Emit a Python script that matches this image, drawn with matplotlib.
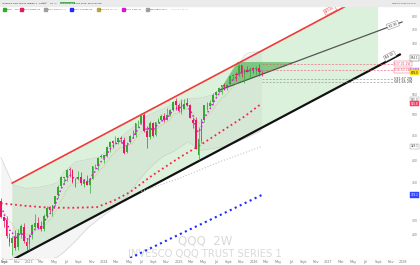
import datetime as dt
import numpy as np
import matplotlib
matplotlib.use('Agg')
import matplotlib.pyplot as plt
import matplotlib.dates as mdates
from matplotlib.patches import Rectangle, Polygon
from matplotlib.transforms import blended_transform_factory

W, H = 420, 265

# ---------------- data (QQQ, 2W bars) ----------------
first_bar = dt.date(2022, 8, 15)
opens = [330, 305, 301, 276, 270, 277, 264, 281, 291, 271,
         268, 280, 291, 296, 292, 288, 307, 318, 316, 325,
         339, 354, 368, 369, 384, 383, 365, 366, 370, 357,
         362, 356, 367, 389, 389, 406, 405, 411, 426, 439,
         437, 438, 446, 441, 416, 437, 451, 452, 479, 480,
         497, 462, 447, 480, 453, 482, 487, 496, 487, 497,
         509, 531, 522, 505, 513, 526, 522, 487, 485, 410,
         440, 486, 520, 519, 530, 549, 556, 568, 574, 570,
         577, 599, 606, 605, 631, 606, 618, 614, 622, 621,
         624, 610]
highs = [334, 307, 306, 283, 278, 287, 288, 295, 296, 274,
         281, 295, 310, 305, 300, 310, 321, 322, 324, 338,
         355, 371, 370, 385, 387, 385, 368, 381, 379, 366,
         373, 368, 390, 393, 406, 412, 411, 428, 440, 442,
         449, 448, 449, 448, 437, 452, 463, 480, 486, 503,
         503, 471, 483, 482, 482, 491, 501, 503, 515, 512,
         533, 539, 526, 538, 537, 540, 524, 492, 494, 470,
         489, 523, 530, 535, 552, 559, 568, 575, 581, 578,
         600, 605, 611, 637, 632, 620, 629, 626, 625, 630,
         636, 615]
lows = [304, 291, 276, 266, 254, 260, 260, 276, 270, 260,
        260, 274, 288, 288, 285, 286, 304, 312, 307, 322,
        334, 350, 357, 363, 370, 360, 353, 365, 356, 352,
        355, 343, 366, 384, 383, 404, 396, 407, 416, 424,
        434, 433, 436, 413, 414, 435, 445, 447, 470, 478,
        459, 425, 444, 448, 450, 479, 483, 482, 485, 495,
        507, 510, 505, 499, 511, 520, 490, 467, 422, 402,
        435, 482, 510, 517, 523, 546, 553, 550, 560, 560,
        575, 590, 587, 601, 596, 580, 612, 595, 610, 605,
        600, 600]
closes = [305, 299, 278, 271, 276, 263, 282, 292, 272, 266,
          280, 293, 296, 290, 288, 306, 319, 316, 324, 338,
          353, 369, 369, 383, 383, 361, 364, 369, 359, 365,
          356, 367, 389, 390, 405, 409, 410, 426, 438, 436,
          438, 446, 443, 414, 432, 450, 450, 479, 480, 496,
          461, 447, 480, 451, 481, 487, 496, 487, 497, 509,
          530, 522, 508, 529, 525, 522, 491, 480, 422, 444,
          488, 522, 519, 527, 549, 555, 567, 574, 571, 576,
          599, 604, 603, 629, 608, 619, 613, 621, 620, 622,
          612, 609]
ema_fast = [320, 312, 298, 287, 283, 275, 278, 283, 279, 274,
            276, 283, 288, 289, 289, 296, 305, 309, 315, 324,
            336, 349, 357, 368, 374, 369, 367, 368, 364, 365,
            361, 364, 374, 380, 390, 398, 403, 412, 422, 428,
            432, 438, 440, 429, 430, 438, 443, 457, 466, 478,
            471, 462, 469, 462, 470, 477, 484, 485, 490, 498,
            511, 515, 512, 519, 521, 522, 509, 498, 467, 458,
            470, 491, 502, 512, 527, 538, 550, 559, 564, 569,
            581, 590, 595, 609, 609, 613, 613, 616, 618, 619,
            616, 613]
ema_mid = [317, 313, 306, 299, 295, 288, 287, 288, 285, 281,
           281, 283, 286, 287, 287, 291, 296, 300, 305, 312,
           320, 330, 338, 347, 354, 355, 357, 360, 359, 361,
           360, 361, 367, 371, 378, 384, 389, 397, 405, 411,
           417, 423, 427, 424, 426, 431, 435, 443, 451, 460,
           460, 457, 462, 460, 464, 469, 474, 477, 481, 486,
           495, 501, 502, 507, 511, 513, 509, 503, 487, 478,
           480, 489, 495, 501, 511, 520, 529, 538, 545, 551,
           561, 569, 576, 587, 591, 597, 600, 604, 607, 610,
           611, 610]
bar_dates = [first_bar + dt.timedelta(days=14 * i) for i in range(len(closes))]

slow_dates = ['2022-08-15', '2022-12-12', '2023-04-13', '2023-08-13', '2023-11-28',
              '2024-02-24', '2024-05-08', '2024-08-14', '2025-01-08', '2025-04-01',
              '2025-07-31', '2025-11-20', '2026-02-09']
slow_red = [326, 322, 319, 319, 320, 331, 344, 370, 407, 427, 461, 495, 526]

grey_dates = ['2024-07-01', '2025-01-08', '2025-07-21', '2026-02-09']
grey_ma = [345, 368, 398, 428]

blue_dates = ['2024-03-20', '2024-11-28', '2025-07-21', '2026-02-09']
blue_ma = [245, 276, 308, 339]

bb_dates = ['2022-08-15', '2022-09-15', '2022-10-15', '2022-12-15', '2023-02-15',
            '2023-04-15', '2023-05-20', '2023-06-20', '2023-08-15', '2023-10-15',
            '2023-12-15', '2024-02-15', '2024-04-15', '2024-06-15', '2024-08-15',
            '2024-10-15', '2024-12-15', '2025-02-15', '2025-04-15', '2025-06-15',
            '2025-08-15', '2025-10-15', '2025-11-20', '2025-12-15', '2026-02-09']
bb_upper = [406, 380, 356, 350, 352, 356, 360, 379, 398, 402, 408, 432, 456, 478,
            500, 512, 528, 538, 540, 548, 575, 630, 665, 672, 675]
bb_lower = [240, 242, 244, 246, 247, 249, 252, 258, 272, 290, 304, 318, 334, 362,
            388, 408, 420, 438, 420, 424, 428, 438, 445, 450, 462]

# trend lines (anchor date, price)
red_dates = ['2022-10-10', '2027-04-07']
red_prices = [359.2, 843.4]
black_dates = ['2022-10-10', '2027-12-16']
black_prices = [248.4, 665.0]
wedge_dates = ['2025-07-21', '2027-12-27']
wedge_prices = [561.3, 777.3]
wedge_top_date = '2025-10-13'
wedge_top_price = 641.5

level_prices = [637.01, 616.63, 591.67, 581.65]
level_names = ['637.01 2W', '616.63 2W', '591.67 2W', '581.65 2W']
level_colors = ['#f0506e', '#f0506e', '#888888', '#888888']

ytick_vals = [280, 300, 360, 400, 450, 500, 550, 700, 750, 800]

# ---------------- helpers ----------------
def d(s):
    return mdates.datestr2num(s) if isinstance(s, str) else mdates.date2num(s)

def on_line(x, xs, ps):
    x0, x1 = d(xs[0]), d(xs[1])
    t = (x - x0) / (x1 - x0)
    return ps[0] * (ps[1] / ps[0]) ** t

def fx(x):
    return x / W

def fy(y):
    return 1 - y / H

# ---------------- figure ----------------
fig = plt.figure(figsize=(W / 100, H / 100), dpi=100)
fig.patch.set_facecolor('white')
ax = fig.add_axes([0, 7 / H, 408 / W, 252 / H])
ax.set_yscale('log')
ax.set_xlim(d('2022-08-11'), d('2028-01-25'))
ax.set_ylim(250.7, 839.3)
for s in ax.spines.values():
    s.set_visible(False)

# channel fill
x_right = d('2027-09-01')
chan = [(d(red_dates[0]), red_prices[0]),
        (x_right, on_line(x_right, red_dates, red_prices)),
        (x_right, on_line(x_right, black_dates, black_prices)),
        (d(black_dates[0]), black_prices[0])]
ax.add_patch(Polygon(chan, closed=True, facecolor='#dcf1dc', edgecolor='none', zorder=1))

# bollinger
bbx = [d(s) for s in bb_dates]
ax.fill_between(bbx, bb_lower, bb_upper, color='#9e9e9e', alpha=0.1, lw=0, zorder=1.5)
ax.plot(bbx, bb_upper, color='#cccccc', lw=0.4, zorder=1.6)
ax.plot(bbx, bb_lower, color='#cccccc', lw=0.4, zorder=1.6)

# watermark
ax.text(0.502, 0.068, 'QQQ  2W', transform=ax.transAxes, ha='center', va='center',
        fontsize=8.5, color='#d9d9d9', zorder=0.5)
ax.text(0.502, 0.016, 'INVESCO QQQ TRUST SERIES 1', transform=ax.transAxes, ha='center',
        va='center', fontsize=7.2, color='#d9d9d9', zorder=0.5)

# wedge triangle
wx0 = d(wedge_dates[0])
t_apex = np.log(wedge_top_price / wedge_prices[0]) / np.log(wedge_prices[1] / wedge_prices[0])
apex_x = wx0 + t_apex * (d(wedge_dates[1]) - wx0)
ax.add_patch(Polygon([(d(wedge_top_date), wedge_top_price), (apex_x, wedge_top_price),
                      (wx0, wedge_prices[0])], closed=True,
                     facecolor='#43b049', alpha=0.6, edgecolor='none', zorder=2.5))

# trend lines
ax.plot([d(s) for s in red_dates], red_prices, color='#ee3b3b', lw=1.2, zorder=3)
ax.plot([d(s) for s in black_dates], black_prices, color='#111111', lw=1.6, zorder=3)
ax.plot([d(s) for s in wedge_dates], wedge_prices, color='#555555', lw=0.9, zorder=3)

# moving averages
ax.plot([d(s) for s in grey_dates], grey_ma, color='#c4c4c4', lw=0.8, ls=':', zorder=3)
ax.plot([d(s) for s in blue_dates], blue_ma, color='#1f2bff', lw=1.5, ls=':', zorder=3)
ax.plot([d(s) for s in slow_dates], slow_red, color='#ff1f4b', lw=1.3, ls=':', zorder=3)
ax.plot(bar_dates, ema_mid, color='#c9b45a', lw=0.5, ls=':', zorder=3.5)

# candles
o = np.array(opens); c = np.array(closes)
cols = np.where(c >= o, '#35a832', '#e8185c')
ax.vlines(bar_dates, lows, highs, colors=cols, lw=0.5, zorder=4)
ax.bar(bar_dates, np.maximum(np.abs(c - o), 0.8), bottom=np.minimum(o, c), width=8.5,
       color=cols, lw=0, zorder=4.2)
ax.plot(bar_dates, ema_fast, color='#d21ad2', lw=1.1, ls=':', zorder=5)

# horizontal levels
lx0, lx1 = mdates.date2num(bar_dates[-1]), d('2027-11-12')
for p, name, col in zip(level_prices, level_names, level_colors):
    ax.plot([lx0, lx1], [p, p], color=col, lw=0.5, ls=(0, (3, 2)), alpha=0.8, zorder=3)
    if col != '#888888':
        ax.text(d('2027-11-20'), p, name, fontsize=2.2, color=col, va='center', ha='left',
                clip_on=False, zorder=6,
                bbox=dict(boxstyle='square,pad=0.2', fc='white', ec=col, lw=0.3))
    else:
        ax.text(d('2027-11-20'), p, name, fontsize=2.4, color='#444444', va='center',
                ha='left', clip_on=False, zorder=6)

# trend line labels
lab = dict(fontsize=2.1, ha='center', va='center', clip_on=False, zorder=6)
ax.text(d('2027-01-09'), 823, '823.40', rotation=28, color='#ee3b3b',
        bbox=dict(boxstyle='square,pad=0.3', fc='white', ec='#ee3b3b', lw=0.3), **lab)
ax.text(d('2027-11-12'), 766, '761.90', rotation=20.5, color='#333333',
        bbox=dict(boxstyle='square,pad=0.3', fc='white', ec='#777777', lw=0.3), **lab)
ax.text(d('2027-10-28'), 660, '654.10', rotation=28, color='#333333',
        bbox=dict(boxstyle='square,pad=0.3', fc='white', ec='#777777', lw=0.3), **lab)

# axes ticks
months = ['Jan', 'Feb', 'Mar', 'Apr', 'May', 'Jun', 'Jul', 'Aug', 'Sept', 'Oct', 'Nov', 'Dec']
tick_pos, tick_lab = [mdates.date2num(dt.date(2022, 9, 1))], ['Sept']
for yr in range(2022, 2029):
    for m in range(1, 13, 2):
        day = dt.date(yr, m, 1)
        if dt.date(2022, 9, 1) <= day <= dt.date(2028, 1, 1):
            tick_pos.append(mdates.date2num(day))
            tick_lab.append(str(yr) if m == 1 else months[m - 1])
ax.set_xticks(tick_pos)
ax.set_xticklabels(tick_lab)
ax.tick_params(axis='x', length=0, pad=1.2, labelsize=2.4, colors='#777777')
ax.yaxis.tick_right()
ax.set_yticks(ytick_vals)
ax.set_yticklabels(['%d' % v for v in ytick_vals])
ax.yaxis.set_minor_locator(matplotlib.ticker.NullLocator())
ax.tick_params(axis='y', length=0, pad=2.5, labelsize=2.2, colors='#777777')

# price boxes on right scale
tr = blended_transform_factory(ax.transAxes, ax.transData)
boxes = [(654.1, '654.1', 'white', '#333333', '#555555'),
         (535.0, '535.0', 'white', '#555555', '#999999'),
         (525.8, '525.8', '#ff3d64', 'white', '#ff3d64'),
         (428.1, '428.1', 'white', '#555555', '#999999'),
         (339.2, '339.2', '#3346ff', 'white', '#3346ff'),
         (616.4, '616.4', '#cf7cf3', 'white', '#cf7cf3'),
         (609.0, '609.0', '#f5dc1a', '#222222', '#f5dc1a')]
for p, t, fc, tc, ec in boxes:
    ax.text(1.006, p, t, transform=tr, fontsize=2.0, color=tc, va='center', ha='left',
            clip_on=False, zorder=7,
            bbox=dict(boxstyle='square,pad=0.2', fc=fc, ec=ec, lw=0.3))

# header bar
fig.patches.append(Rectangle((0, fy(6)), 1, 6 / H, transform=fig.transFigure,
                             color='#ebebeb', zorder=0))
fig.text(fx(2), fy(3), 'INVESCO QQQ TRUST SERIES 1 · 2W', fontsize=1.6,
         color='#131722', va='center')
fig.text(fx(42), fy(3), 'NDX', fontsize=1.6, color='#555555', va='center',
         bbox=dict(boxstyle='square,pad=0.2', fc='#d6d6d6', ec='none'))
fig.text(fx(50), fy(3), '608.75', fontsize=1.6, color='#2e9e3a', va='center')
fig.text(fx(60.5), fy(3), '+4.61 0.76%', fontsize=1.6, color='white', va='center',
         bbox=dict(boxstyle='square,pad=0.2', fc='#4caf50', ec='none'))
fig.text(fx(74), fy(3), '9 Feb 2026, 05:00:00 pm', fontsize=1.6, color='#333333', va='center')
fig.text(fx(417), fy(3), 'www.tradingview.com', fontsize=1.6, color='#555555',
         va='center', ha='right')

# indicator legend row
legend_items = [(3, '#35a832', 'Price', '608.75', '#35a832'),
                (20, '#e8185c', 'EMA 50', '525.80', '#e8185c'),
                (44, '#9e9e9e', 'EMA 200', '428.10', '#9e9e9e'),
                (70, '#1f2bff', 'EMA 100', '339.20', '#1f2bff'),
                (97, '#b5a642', 'EMA 20', '610.30', '#b5a642'),
                (122, '#d21ad2', 'EMA 5', '616.40', '#d21ad2'),
                (146, '#9e9e9e', 'Bollinger 20 2', '593.15 535.00', '#bbbbbb')]
for x, col, name, val, vcol in legend_items:
    fig.patches.append(Rectangle((fx(x), fy(10.5)), 2.5 / W, 3 / H, transform=fig.transFigure,
                                 color=col, zorder=3))
    fig.text(fx(x + 3.5), fy(9), name, fontsize=1.7, color='#444444', va='center')
    fig.text(fx(x + 4.5 + 1.45 * len(name)), fy(9), val, fontsize=1.7, color=vcol,
             va='center')

fig.text(fx(2), fy(259.5), '\u2699 All data adjusted for splits (ADJ)', fontsize=1.6,
         color='#888888', va='center')

fig.savefig('out.png', dpi=100, facecolor='white')
